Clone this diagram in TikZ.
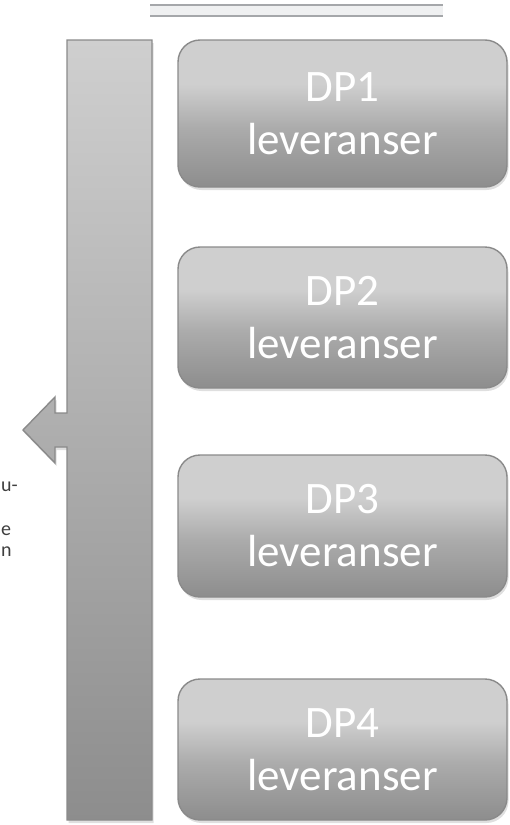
\documentclass[tikz,border=0pt]{standalone}
\usepackage{fontspec}
\setmainfont{Carlito}
\usepackage{xcolor}
\usetikzlibrary{shadows}

\definecolor{grlight}{HTML}{CFCFCF}
\definecolor{grmid}{HTML}{ABABAB}
\definecolor{grdark}{HTML}{8D8D8D}
\definecolor{grline}{HTML}{8A8A8A}
\definecolor{rulefill}{HTML}{EFF0F1}
\definecolor{ruleline}{HTML}{A5A7AA}
\definecolor{sidetext}{HTML}{3F3F3F}

\pgfdeclareverticalshading{boxshade}{100bp}{color(0bp)=(grdark); color(25bp)=(grdark);
  color(45bp)=(grmid); color(60bp)=(grlight); color(75bp)=(grlight); color(100bp)=(grlight)}
\pgfdeclareverticalshading{barshade}{100bp}{color(0bp)=(grdark); color(25bp)=(grdark);
  color(75bp)=(grlight); color(100bp)=(grlight)}

\tikzset{
  dpbox/.style={draw=grline, line width=1.4pt, rounded corners=22pt, shading=boxshade,
    minimum width=329pt, align=center, text=white,
    font=\fontsize{45pt}{53pt}\selectfont,
    drop shadow={shadow xshift=1.5pt, shadow yshift=-3pt, opacity=0.25}},
  sidenote/.style={anchor=west, text=sidetext, inner sep=0pt, font=\fontsize{20pt}{24pt}\selectfont}
}

\begin{document}
\begin{tikzpicture}[x=1pt,y=-1pt]
    \useasboundingbox (0,0) rectangle (510,825);

    % dobbel linje øverst
    \fill[rulefill] (150,4.5) rectangle (443,16);
    \draw[ruleline, line width=2pt] (150,4.5) -- (443,4.5);
    \draw[ruleline, line width=2pt] (150,16) -- (443,16);

    % søyle med pil mot venstre
    \path[draw=grline, line width=1.4pt, shading=barshade,
          drop shadow={shadow xshift=1.5pt, shadow yshift=-3pt, opacity=0.25}]
        (152,40) -- (67,40) -- (67,413) -- (55,413) -- (55,397) -- (23,430)
        -- (55,463) -- (55,447) -- (67,447) -- (67,820) -- (152,820) -- cycle;

    % leveransebokser
    \foreach \i/\y/\h in {1/113.5/147, 2/317.5/141, 3/526/142, 4/749.5/141} {
        \node[dpbox, minimum height=\h pt] (dp\i) at (342.5,\y) {DP\i\\leveranser};
    }

    % avkuttet tekst i venstre kant
    \node[sidenote] (txta) at (1,487) {u-};
    \node[sidenote] (txtb) at (1,531) {e};
    \node[sidenote] (txtc) at (1,552) {n};
\end{tikzpicture}
\end{document}
